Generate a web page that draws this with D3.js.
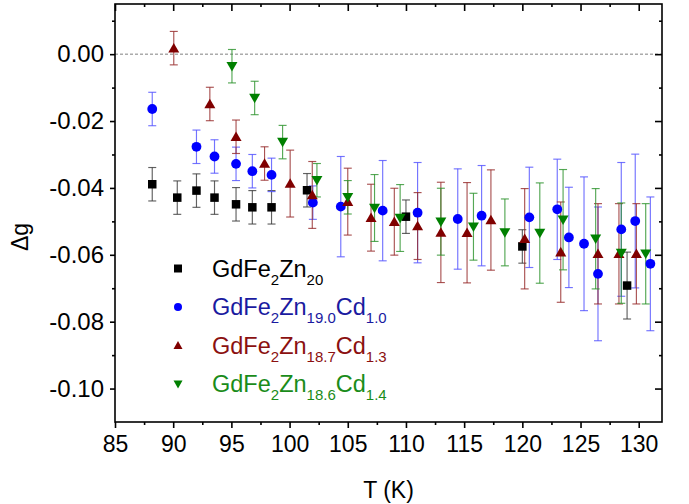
<!DOCTYPE html>
<html>
<head>
<meta charset="utf-8">
<script src="https://cdn.jsdelivr.net/npm/d3@7"></script>
<style>
  html, body { margin: 0; padding: 0; background: #fff; }
  svg { display: block; font-family: "Liberation Sans", Arial, sans-serif; }
</style>
</head>
<body>
<svg id="chart" width="689" height="504"></svg>
<script>
// Temperature (K), Δg and error for each sample
const tZn20 = [88.2, 90.35, 92.0, 93.55, 95.4, 96.8, 98.45, 101.5, 110.0, 120.0, 129.0];
const gZn20 = [-0.0389, -0.0429, -0.0408, -0.0429, -0.0449, -0.0458, -0.0458, -0.0407, -0.0486, -0.0575, -0.0692];
const eZn20 = [0.005, 0.005, 0.005, 0.005, 0.005, 0.005, 0.005, 0.005, 0.005, 0.005, 0.01];

const tCd10 = [88.2, 92.0, 93.55, 95.4, 96.8, 98.45, 102.0, 104.4, 108.0, 111.0, 114.45, 116.5, 120.6, 123.0, 124.0, 125.3, 126.5, 128.5, 129.7, 131.0];
const gCd10 = [-0.0164, -0.0277, -0.0306, -0.0328, -0.0350, -0.0361, -0.0444, -0.0456, -0.0468, -0.0474, -0.0493, -0.0483, -0.0488, -0.0464, -0.0548, -0.0567, -0.0657, -0.0524, -0.0499, -0.0627];
const eCd10 = [0.005, 0.005, 0.005, 0.005, 0.005, 0.005, 0.005, 0.015, 0.015, 0.015, 0.015, 0.015, 0.015, 0.015, 0.015, 0.02, 0.02, 0.02, 0.02, 0.02];

const tCd13 = [90.05, 93.15, 95.4, 97.85, 100.05, 101.95, 105.0, 107.0, 109.0, 111.0, 113.0, 115.25, 117.3, 120.2, 123.3, 126.5, 128.3, 129.8];
const gCd13 = [0.0018, -0.0149, -0.0247, -0.0327, -0.0387, -0.0421, -0.0441, -0.0489, -0.0501, -0.0514, -0.0533, -0.0534, -0.0496, -0.0552, -0.0592, -0.0597, -0.0597, -0.0597];
const eCd13 = [0.005, 0.005, 0.005, 0.005, 0.01, 0.01, 0.01, 0.01, 0.01, 0.01, 0.015, 0.015, 0.015, 0.015, 0.015, 0.015, 0.015, 0.015];

const tCd14 = [95.05, 97.0, 99.4, 102.35, 105.0, 107.3, 109.5, 113.0, 115.8, 118.5, 121.5, 123.5, 126.3, 128.5, 130.6];
const gCd14 = [-0.0036, -0.0131, -0.0263, -0.0377, -0.0428, -0.0460, -0.0490, -0.0501, -0.0516, -0.0533, -0.0535, -0.0495, -0.0552, -0.0595, -0.0597];
const eCd14 = [0.005, 0.005, 0.005, 0.005, 0.005, 0.01, 0.01, 0.01, 0.01, 0.01, 0.015, 0.015, 0.015, 0.015, 0.015];

// Axis ticks
const xMajor = [85, 90, 95, 100, 105, 110, 115, 120, 125, 130];
const xMinor = [87.5, 92.5, 97.5, 102.5, 107.5, 112.5, 117.5, 122.5, 127.5];
const yMajor = [0.00, -0.02, -0.04, -0.06, -0.08, -0.10];
const yMinor = [0.01, -0.01, -0.03, -0.05, -0.07, -0.09];

// Series: legend label parts [text, isSubscript]
const series = [
  { t: tZn20, g: gZn20, e: eZn20, shape: "square", color: "#000000", bar: "#3a3a3a", text: "#000000",
    label: [["GdFe", 0], ["2", 1], ["Zn", 0], ["20", 1]] },
  { t: tCd10, g: gCd10, e: eCd10, shape: "circle", color: "#0000ff", bar: "#5050ff", text: "#1a1aa0",
    label: [["GdFe", 0], ["2", 1], ["Zn", 0], ["19.0", 1], ["Cd", 0], ["1.0", 1]] },
  { t: tCd13, g: gCd13, e: eCd13, shape: "up", color: "#800000", bar: "#952828", text: "#8b1010",
    label: [["GdFe", 0], ["2", 1], ["Zn", 0], ["18.7", 1], ["Cd", 0], ["1.3", 1]] },
  { t: tCd14, g: gCd14, e: eCd14, shape: "down", color: "#008000", bar: "#2a922a", text: "#1a8c1a",
    label: [["GdFe", 0], ["2", 1], ["Zn", 0], ["18.6", 1], ["Cd", 0], ["1.4", 1]] }
];

const svg = d3.select("#chart");
const mLeft = 115, mRight = 662, mTop = 4, mBottom = 422;

const x = d3.scaleLinear().domain([85, 132]).range([mLeft, mRight]);
const y = d3.scaleLinear().domain([-0.11, 0.015]).range([mBottom, mTop]);

// zero reference line
svg.append("line")
  .attr("x1", mLeft).attr("x2", mRight)
  .attr("y1", y(0)).attr("y2", y(0))
  .attr("stroke", "#808080").attr("stroke-width", 1)
  .attr("stroke-dasharray", "3,2");

function symbolPath(shape, size) {
  const s = size;
  if (shape === "square") return `M${-s/2},${-s/2}h${s}v${s}h${-s}Z`;
  if (shape === "circle") return d3.symbol(d3.symbolCircle, Math.PI * (s/2) * (s/2))();
  const h = s * Math.sqrt(3) / 2;
  if (shape === "up") return `M0,${-h/2 - 0.5}L${s/2},${h/2 - 0.5}L${-s/2},${h/2 - 0.5}Z`;
  return `M0,${h/2 + 0.5}L${s/2},${-h/2 + 0.5}L${-s/2},${-h/2 + 0.5}Z`;
}

const sizes = { square: 8.5, circle: 9.8, up: 11, down: 11 };
const cap = 4;

series.forEach(s => {
  const pts = s.t.map((t, i) => ({ t, g: s.g[i], e: s.e[i] }));
  const gBars = svg.append("g")
    .attr("stroke", s.bar).attr("stroke-width", 1.15).attr("stroke-opacity", 0.8);
  pts.forEach(p => {
    const cx = x(p.t), y1 = y(p.g + p.e), y2 = y(p.g - p.e);
    gBars.append("line").attr("x1", cx).attr("x2", cx).attr("y1", y1).attr("y2", y2);
    gBars.append("line").attr("x1", cx - cap).attr("x2", cx + cap).attr("y1", y1).attr("y2", y1);
    gBars.append("line").attr("x1", cx - cap).attr("x2", cx + cap).attr("y1", y2).attr("y2", y2);
  });
});

series.forEach(s => {
  const pts = s.t.map((t, i) => ({ t, g: s.g[i] }));
  svg.append("g").selectAll("path").data(pts).join("path")
    .attr("transform", d => `translate(${x(d.t)},${y(d.g)})`)
    .attr("d", symbolPath(s.shape, sizes[s.shape]))
    .attr("fill", s.color);
});

// Frame
svg.append("rect")
  .attr("x", mLeft).attr("y", mTop)
  .attr("width", mRight - mLeft).attr("height", mBottom - mTop)
  .attr("fill", "none").attr("stroke", "#000").attr("stroke-width", 1.6);

function styleAxis(g, fontSize) {
  g.select(".domain").remove();
  g.selectAll(".tick line").attr("stroke", "#000").attr("stroke-width", 1.6);
  g.selectAll(".tick text").attr("fill", "#000").attr("font-size", fontSize)
    .attr("font-family", "'Liberation Sans', Arial, sans-serif");
}

const fmtY = d => d3.format(".2f")(d).replace("\u2212", "-");

// Bottom axis
svg.append("g").attr("transform", `translate(0,${mBottom})`)
  .call(d3.axisBottom(x).tickValues(xMajor).tickSize(6).tickPadding(8).tickFormat(d3.format("d")))
  .call(g => styleAxis(g, 23));
svg.append("g").attr("transform", `translate(0,${mBottom})`)
  .call(d3.axisBottom(x).tickValues(xMinor).tickSize(3).tickFormat(""))
  .call(g => styleAxis(g, 23));
// Top axis (inward ticks)
svg.append("g").attr("transform", `translate(0,${mTop})`)
  .call(d3.axisBottom(x).tickValues(xMajor).tickSize(7).tickFormat(""))
  .call(g => styleAxis(g, 23));
svg.append("g").attr("transform", `translate(0,${mTop})`)
  .call(d3.axisBottom(x).tickValues(xMinor).tickSize(3).tickFormat(""))
  .call(g => styleAxis(g, 23));

// Left axis
svg.append("g").attr("transform", `translate(${mLeft},0)`)
  .call(d3.axisLeft(y).tickValues(yMajor).tickSize(5).tickPadding(6).tickFormat(fmtY))
  .call(g => styleAxis(g, 24));
svg.append("g").attr("transform", `translate(${mLeft},0)`)
  .call(d3.axisLeft(y).tickValues(yMinor).tickSize(3).tickFormat(""))
  .call(g => styleAxis(g, 23));
// Right axis (inward ticks)
svg.append("g").attr("transform", `translate(${mRight},0)`)
  .call(d3.axisLeft(y).tickValues(yMajor).tickSize(7).tickFormat(""))
  .call(g => styleAxis(g, 23));
svg.append("g").attr("transform", `translate(${mRight},0)`)
  .call(d3.axisLeft(y).tickValues(yMinor).tickSize(3).tickFormat(""))
  .call(g => styleAxis(g, 23));

// Axis titles
svg.append("text")
  .attr("x", (mLeft + mRight) / 2).attr("y", 498)
  .attr("text-anchor", "middle").attr("font-size", 23).attr("fill", "#000")
  .text("T (K)");
svg.append("text")
  .attr("transform", `translate(28,${(mTop + mBottom) / 2 + 24}) rotate(-90)`)
  .attr("text-anchor", "middle").attr("font-size", 23).attr("fill", "#000")
  .text("Δg");

// Legend
const legend = svg.append("g");
const rowY = [276.5, 315, 353.5, 392];
series.forEach((s, i) => {
  const by = rowY[i];
  const legSize = { square: 8, circle: 8, up: 9, down: 9 }[s.shape];
  legend.append("path")
    .attr("transform", `translate(178,${by - 8})`)
    .attr("d", symbolPath(s.shape, legSize))
    .attr("fill", s.color);
  const txt = legend.append("text")
    .attr("x", 212).attr("y", by)
    .attr("fill", s.text).attr("font-size", 23.5);
  let sub = false;
  s.label.forEach(([str, isSub]) => {
    const ts = txt.append("tspan").text(str);
    if (isSub && !sub) { ts.attr("dy", 8).attr("font-size", 15); sub = true; }
    else if (!isSub && sub) { ts.attr("dy", -8).attr("font-size", 23.5); sub = false; }
    else if (isSub) { ts.attr("font-size", 15); }
  });
});
</script>
</body>
</html>
